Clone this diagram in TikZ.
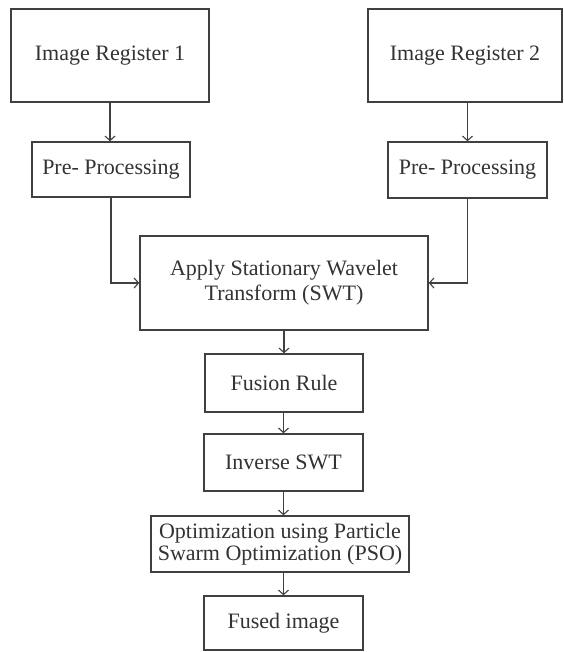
\documentclass[tikz,border=0pt]{standalone}
\usepackage{fontspec}
\setmainfont{Liberation Serif}
\usetikzlibrary{arrows.meta}
\begin{document}
\begin{tikzpicture}[x=1pt,y=-1pt,
  box/.style={draw=black!75, line width=1.4pt, rectangle, inner sep=0pt, align=center,
    text=black!80, font=\fontsize{22}{25}\selectfont},
  conn/.style={draw=black!75, line width=1.3pt, -{Straight Barb[length=4.5pt,width=10pt,line width=1.1pt]}}]
\useasboundingbox (0,0) rectangle (563,652);
\fill[white] (0,0) rectangle (563,652);
\node[box, minimum width=198pt, minimum height=93pt] (ir1) at (110,55.5) {Image Register 1};
\node[box, minimum width=194pt, minimum height=93pt] (ir2) at (465,55.5) {Image Register 2};
\node[box, minimum width=158pt, minimum height=55pt] (pp1) at (111,169.5) {Pre- Processing};
\node[box, minimum width=159pt, minimum height=56pt] (pp2) at (467.5,170) {Pre- Processing};
\node[box, minimum width=288pt, minimum height=94pt] (swt) at (284,283) {Apply Stationary Wavelet\\Transform (SWT)};
\node[box, minimum width=158pt, minimum height=58pt] (fus) at (284,383) {Fusion Rule};
\node[box, minimum width=159pt, minimum height=57pt] (inv) at (283.5,462.5) {Inverse SWT};
\node[box, minimum width=258pt, minimum height=56pt, font=\fontsize{22}{22}\selectfont] (opt) at (280,544) {Optimization using Particle\\Swarm Optimization (PSO)};
\node[box, minimum width=159pt, minimum height=54pt] (fim) at (283.5,623) {Fused image};
\draw[conn] (ir1.south) -- (ir1.south |- pp1.north);
\draw[conn] (ir2.south -| pp2.north) -- (pp2.north);
\draw[conn] (pp1.south) |- (swt.west);
\draw[conn] (pp2.south) |- (swt.east);
\draw[conn] (swt.south -| fus.north) -- (fus.north);
\draw[conn] (fus.south -| inv.north) -- (inv.north);
\draw[conn] (inv.south) -- (inv.south |- opt.north);
\draw[conn] (opt.south -| fim.north) -- (fim.north);
\end{tikzpicture}
\end{document}
